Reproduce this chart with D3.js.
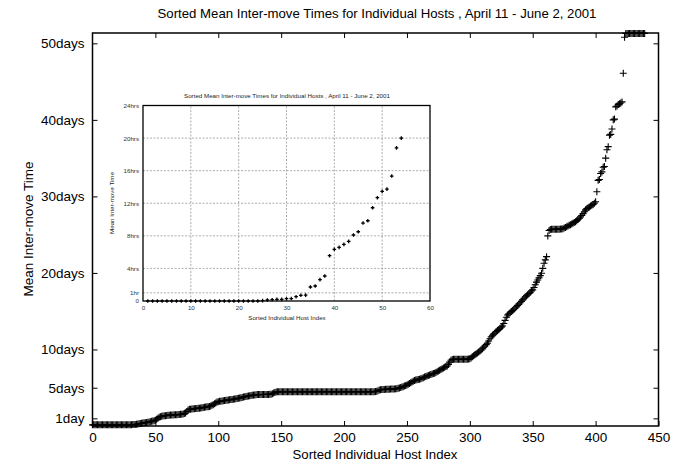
<!DOCTYPE html>
<html><head><meta charset="utf-8">
<script src="https://cdn.jsdelivr.net/npm/d3@7/dist/d3.min.js"></script>
<style>body{margin:0;background:#fff}svg{display:block}text{font-family:"Liberation Sans",Arial,sans-serif}</style>
</head><body>
<svg id="c" width="681" height="466"></svg>
<script>
// ---------- DATA ----------
const titleText = "Sorted Mean Inter-move Times for Individual Hosts , April 11 - June 2, 2001";
const xLabel = "Sorted Individual Host Index";
const yLabel = "Mean Inter-move Time";

const mainXTicks = [0,50,100,150,200,250,300,350,400,450];
const mainYTicks = [1,5,10,20,30,40,50];
const mainYTickLabels = ["1day","5days","10days","20days","30days","40days","50days"];

// Mean inter-move time (days) per sorted host index 0..443
const hostDays = [
0.15,0.15,0.15,0.15,0.15,0.15,0.15,0.15,0.15,0.15,
0.15,0.15,0.15,0.15,0.15,0.15,0.15,0.15,0.15,0.15,
0.15,0.15,0.15,0.15,0.15,0.15,0.15,0.16,0.16,0.16,
0.17,0.17,0.18,0.18,0.19,0.22,0.26,0.30,0.33,0.36,
0.39,0.41,0.44,0.47,0.50,0.53,0.57,0.62,0.66,0.70,
0.75,0.88,1.02,1.15,1.22,1.26,1.30,1.33,1.35,1.38,
1.40,1.42,1.43,1.44,1.45,1.46,1.47,1.48,1.49,1.50,
1.52,1.53,1.56,1.62,1.70,1.90,2.10,2.18,2.20,2.22,
2.24,2.26,2.28,2.30,2.31,2.33,2.36,2.39,2.42,2.45,
2.48,2.50,2.52,2.56,2.62,2.70,2.78,2.90,3.02,3.12,
3.18,3.22,3.25,3.28,3.31,3.33,3.36,3.38,3.40,3.43,
3.45,3.47,3.50,3.53,3.56,3.59,3.62,3.66,3.70,3.74,
3.78,3.82,3.86,3.89,3.92,3.95,3.98,4.01,4.04,4.06,
4.08,4.10,4.10,4.11,4.11,4.12,4.12,4.12,4.13,4.13,
4.13,4.14,4.14,4.20,4.30,4.38,4.44,4.46,4.47,4.47,
4.48,4.48,4.48,4.48,4.48,4.48,4.48,4.48,4.48,4.48,
4.48,4.48,4.48,4.48,4.48,4.48,4.48,4.48,4.48,4.48,
4.48,4.48,4.48,4.48,4.48,4.48,4.48,4.48,4.48,4.48,
4.48,4.48,4.48,4.48,4.48,4.48,4.48,4.48,4.48,4.48,
4.48,4.48,4.48,4.48,4.48,4.48,4.48,4.48,4.48,4.48,
4.48,4.48,4.48,4.48,4.48,4.48,4.48,4.48,4.48,4.48,
4.48,4.48,4.48,4.48,4.48,4.48,4.48,4.48,4.48,4.48,
4.48,4.48,4.48,4.48,4.48,4.50,4.55,4.62,4.71,4.74,
4.76,4.77,4.78,4.79,4.80,4.80,4.81,4.82,4.82,4.83,
4.84,4.86,4.88,4.92,4.97,5.02,5.08,5.14,5.22,5.30,
5.36,5.46,5.56,5.66,5.76,5.85,5.93,6.00,6.05,6.09,
6.12,6.18,6.25,6.32,6.39,6.46,6.53,6.60,6.67,6.74,
6.80,6.85,6.89,6.98,7.08,7.18,7.28,7.38,7.48,7.58,
7.68,7.76,7.84,8.05,8.35,8.60,8.70,8.72,8.72,8.72,
8.72,8.72,8.72,8.72,8.72,8.72,8.72,8.72,8.73,8.74,
8.78,8.90,9.06,9.18,9.30,9.42,9.55,9.68,9.80,9.93,
10.10,10.28,10.45,10.63,10.81,11.10,11.40,11.67,11.85,12.00,
12.16,12.33,12.48,12.62,12.78,12.92,13.07,13.40,13.80,14.20,
14.51,14.65,14.80,14.95,15.10,15.25,15.42,15.59,15.75,15.92,
16.10,16.28,16.48,16.69,16.85,17.00,17.15,17.32,17.48,17.64,
17.78,18.10,18.45,18.80,19.08,19.35,19.65,19.96,20.60,21.27,
21.70,22.13,24.84,25.55,25.68,25.71,25.71,25.71,25.71,25.72,
25.72,25.72,25.73,25.75,25.78,25.86,25.95,26.05,26.14,26.22,
26.30,26.40,26.50,26.58,26.70,26.83,26.98,27.14,27.30,27.50,
27.75,28.00,28.24,28.40,28.52,28.62,28.76,28.85,28.95,29.12,
29.30,30.60,32.10,32.20,33.00,33.20,33.80,33.90,35.00,36.10,
36.50,38.00,38.10,38.80,40.00,40.10,41.70,41.80,42.00,42.10,
42.20,42.35,46.10,50.80,51.30,51.30,51.30,51.30,51.30,51.30,
51.30,51.30,51.30,51.30,51.30,51.30,51.30,51.30,51.30,51.30
];

// Inset: first hosts, mean inter-move time in hours (index 1..54)
const insetHours = [
0,0,0,0,0,0,0,0,0,0,
0,0,0,0,0,0,0,0,0,0,
0,0,0,0,0.04,0.12,0.16,0.20,0.20,0.28,
0.30,0.53,0.70,0.72,1.72,1.84,2.62,3.07,5.56,6.34,
6.58,6.95,7.32,8.10,8.50,9.57,9.85,11.45,12.68,13.46,
13.74,15.34,18.80,20.00
];
const insetXTicks = [0,10,20,30,40,50,60];
const insetYTicks = [0,1,4,8,12,16,20,24];
const insetYTickLabels = ["0","1hr","4hrs","8hrs","12hrs","16hrs","20hrs","24hrs"];

// ---------- DRAW ----------
const svg = d3.select("#c");
svg.append("rect").attr("width",681).attr("height",466).attr("fill","#fff");

const x = d3.scaleLinear().domain([0,450]).range([92.5,658.5]);
const y = d3.scaleLinear().domain([0,51.35]).range([426,33]);

const F = 13.2, FT = 13.5;
// main axes
const gx = svg.append("g").attr("transform","translate(0,426)")
  .call(d3.axisBottom(x).tickValues(mainXTicks).tickSizeInner(-5).tickSizeOuter(0).tickPadding(6).tickFormat(d3.format("d")));
const gxt = svg.append("g").attr("transform","translate(0,33)")
  .call(d3.axisTop(x).tickValues(mainXTicks.slice(1,-1)).tickSizeInner(-5).tickSizeOuter(0).tickFormat(""));
const gy = svg.append("g").attr("transform","translate(92.5,0)")
  .call(d3.axisLeft(y).tickValues(mainYTicks).tickSizeInner(-5).tickSizeOuter(0).tickPadding(8)
  .tickFormat((d,i)=>mainYTickLabels[i]));
const gyr = svg.append("g").attr("transform","translate(658.5,0)")
  .call(d3.axisRight(y).tickValues(mainYTicks).tickSizeInner(-5).tickSizeOuter(0).tickFormat(""));
[gx,gxt,gy,gyr].forEach(g=>{
  g.select(".domain").remove();
  g.selectAll(".tick line").attr("stroke","#000").attr("stroke-width",1);
  g.selectAll(".tick text").attr("font-size",FT).attr("fill","#000")
    .style("font-family",'"Liberation Sans",Arial,sans-serif');
});
svg.append("rect").attr("x",92.5).attr("y",33).attr("width",566).attr("height",393)
  .attr("fill","none").attr("stroke","#000").attr("stroke-width",1.5);

// titles
svg.append("text").attr("x",377).attr("y",18).attr("text-anchor","middle").attr("font-size",F).text(titleText);
svg.append("text").attr("x",375).attr("y",459).attr("text-anchor","middle").attr("font-size",F).text(xLabel);
svg.append("text").attr("transform","translate(33,229) rotate(-90)").attr("text-anchor","middle").attr("font-size",FT).text(yLabel);

// main points: '+' markers
const plus = s => `M${-s},0H${s}M0,${-s}V${s}`;
svg.append("g").selectAll("path.p").data(hostDays).join("path")
  .attr("transform",(d,i)=>`translate(${x(i)},${y(d)})`)
  .attr("d",plus(3.5)).attr("stroke","#000").attr("stroke-width",1.1).attr("fill","none");

// ---------- INSET ----------
const ix = d3.scaleLinear().domain([0,60]).range([143,430]);
const iy = d3.scaleLinear().domain([0,24]).range([301,105.5]);
const fs = 6.2;
const ig = svg.append("g");
// grid
ig.append("g").selectAll("line.v").data(insetXTicks.slice(1,-1)).join("line")
  .attr("x1",d=>ix(d)).attr("x2",d=>ix(d)).attr("y1",iy(0)).attr("y2",iy(24))
  .attr("stroke","#999").attr("stroke-width",0.8).attr("stroke-dasharray","2,1.5");
ig.append("g").selectAll("line.h").data(insetYTicks.slice(1,-1)).join("line")
  .attr("x1",ix(0)).attr("x2",ix(60)).attr("y1",d=>iy(d)).attr("y2",d=>iy(d))
  .attr("stroke","#999").attr("stroke-width",0.8).attr("stroke-dasharray","2,1.5");
const igx = ig.append("g").attr("transform",`translate(0,${iy(0)})`)
  .call(d3.axisBottom(ix).tickValues(insetXTicks).tickSize(0).tickPadding(5));
const igy = ig.append("g").attr("transform",`translate(${ix(0)},0)`)
  .call(d3.axisLeft(iy).tickValues(insetYTicks).tickSize(0).tickPadding(4).tickFormat((d,i)=>insetYTickLabels[i]));
[igx,igy].forEach(g=>{
  g.select(".domain").remove();
  g.selectAll(".tick text").attr("font-size",fs).attr("fill","#333")
    .style("font-family",'"Liberation Sans",Arial,sans-serif');
});
ig.append("rect").attr("x",ix(0)).attr("y",iy(24)).attr("width",ix(60)-ix(0)).attr("height",iy(0)-iy(24))
  .attr("fill","none").attr("stroke","#000").attr("stroke-width",1.3);
ig.append("text").attr("x",287).attr("y",98).attr("text-anchor","middle").attr("font-size",fs).attr("fill","#222").text(titleText);
ig.append("text").attr("x",287).attr("y",320).attr("text-anchor","middle").attr("font-size",fs).attr("fill","#222").text(xLabel);
ig.append("text").attr("transform","translate(114,203) rotate(-90)").attr("text-anchor","middle").attr("font-size",fs).attr("fill","#222").text(yLabel);
ig.append("g").selectAll("path").data(insetHours).join("path")
  .attr("transform",(d,i)=>`translate(${ix(i+1)},${iy(d)})`)
  .attr("d",plus(1.8)).attr("stroke","#000").attr("stroke-width",1.3).attr("fill","none");
</script>
</body></html>
